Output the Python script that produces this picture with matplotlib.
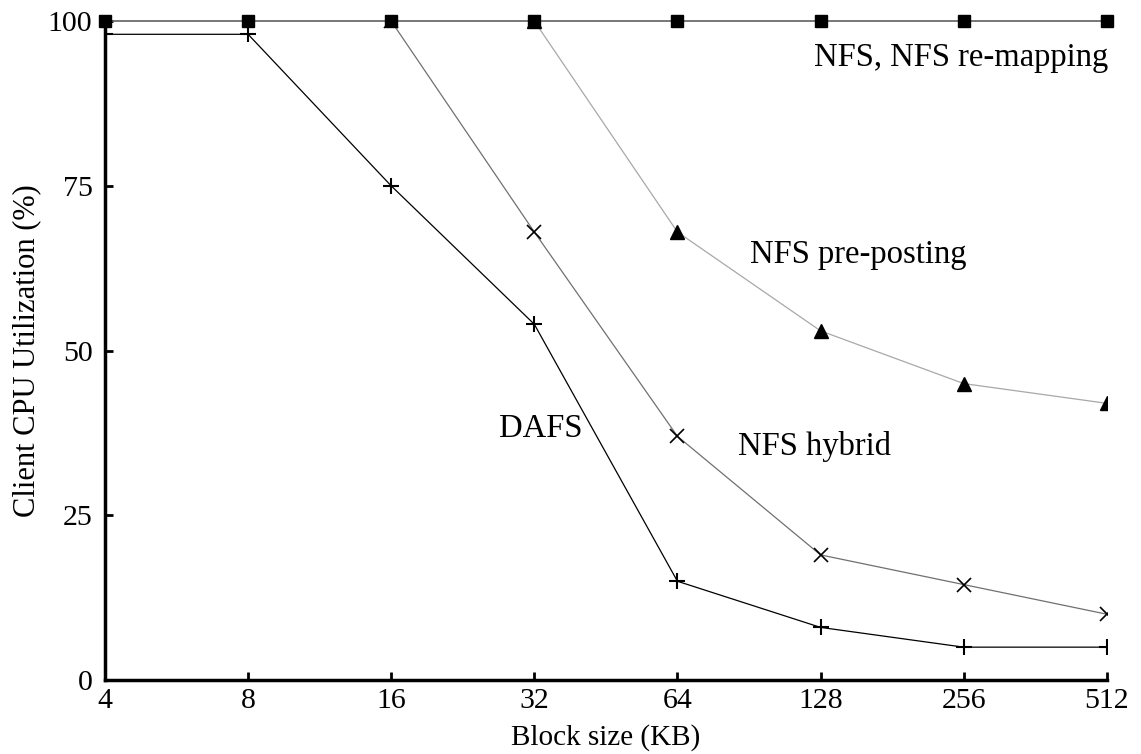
import matplotlib.pyplot as plt

block_kb = [4, 8, 16, 32, 64, 128, 256, 512]
nfs = [100, 100, 100, 100, 100, 100, 100, 100]
dafs = [98, 98, 75, 54, 15, 8, 5, 5]
hybrid_kb = [16, 32, 64, 128, 256, 512]
hybrid = [100, 68, 37, 19, 14.5, 10]
prepost_kb = [32, 64, 128, 256, 512]
prepost = [100, 68, 53, 45, 42]
yticks = [0, 25, 50, 75, 100]

plt.rcParams['font.family'] = ['Liberation Serif', 'DejaVu Serif']

fig = plt.figure(figsize=(11.41, 7.54), dpi=100)
ax = fig.add_axes([0.092, 0.098, 0.878, 0.874])

ax.plot(prepost_kb, prepost, color='#a8a8a8', lw=0.9, marker='^', ms=10,
        mfc='black', mec='black', zorder=2)
ax.plot(hybrid_kb, hybrid, color='#707070', lw=0.9, marker='x', ms=10,
        mew=1.2, mec='black', zorder=2)
ax.plot(block_kb, dafs, color='black', lw=0.9, marker='+', ms=12,
        mew=1.5, mec='black', zorder=3)
ax.plot(block_kb, nfs, color='#606060', lw=1.2, marker='s', ms=9,
        mfc='black', mec='black', zorder=4, clip_on=False)

ax.set_xscale('log', base=2)
ax.set_xlim(4, 512)
ax.set_ylim(0, 100)
ax.set_xticks(block_kb)
ax.set_xticklabels([str(b) for b in block_kb])
ax.minorticks_off()
ax.set_yticks(yticks)

for s in ['top', 'right']:
    ax.spines[s].set_visible(False)
for s in ['left', 'bottom']:
    ax.spines[s].set_linewidth(2.5)

ax.tick_params(direction='in', length=6, width=2, labelsize=21.5)
ax.tick_params(axis='y', pad=9)
ax.tick_params(axis='x', pad=6)

ax.set_xlabel('Block size (KB)', fontsize=21, labelpad=7)
ax.set_ylabel('Client CPU Utilization (%)', fontsize=22, labelpad=5)

ax.text(253, 94.4, 'NFS, NFS re-mapping', fontsize=23.5, ha='center', va='center')
ax.text(154, 64.5, 'NFS pre-posting', fontsize=23.5, ha='center', va='center')
ax.text(124.5, 35.4, 'NFS hybrid', fontsize=23.5, ha='center', va='center')
ax.text(33, 38.2, 'DAFS', fontsize=23.5, ha='center', va='center')

fig.savefig('out.png', dpi=100)
